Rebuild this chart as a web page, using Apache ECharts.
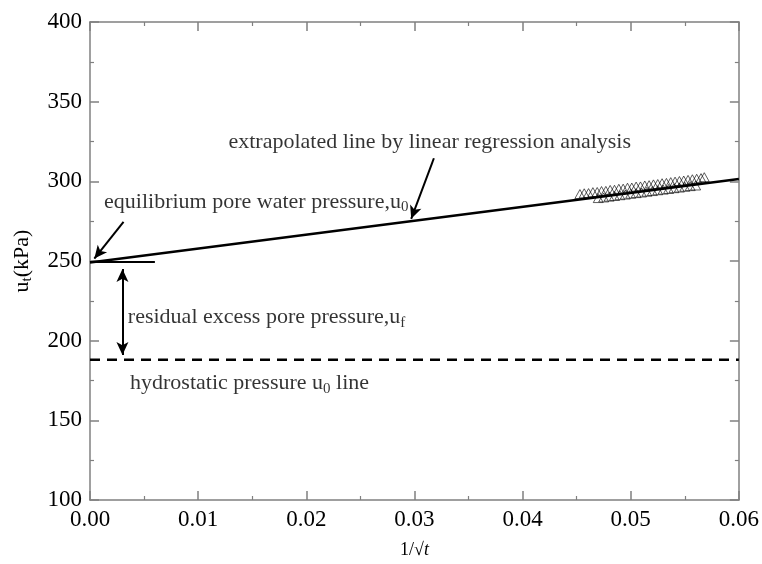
<!DOCTYPE html>
<html>
<head>
<meta charset="utf-8">
<script src="https://cdn.jsdelivr.net/npm/echarts@6/dist/echarts.min.js"></script>
<style>
	html, body { margin: 0; padding: 0; background: #fff; }
	#main { width: 762px; height: 564px; }
</style>
</head>
<body>
<div id="main"></div>
<script>
'use strict';
// measured points, upper and lower rows of triangles
var measuredX1 = [0.0453, 0.0457, 0.0461, 0.0465, 0.0469, 0.0473, 0.0477, 0.0481, 0.0485, 0.0489, 0.0493, 0.0497, 0.0501, 0.0505, 0.0509, 0.0513, 0.0517, 0.0521, 0.0525, 0.0529, 0.0533, 0.0537, 0.0541, 0.0545, 0.0549, 0.0553, 0.0557, 0.0561, 0.0565, 0.0568];
var measuredY1 = [292.0, 292.5, 292.6, 293.2, 293.3, 293.9, 294.0, 294.6, 294.7, 295.3, 295.4, 296.0, 296.1, 296.7, 296.8, 297.4, 297.6, 298.1, 298.3, 298.8, 299.0, 299.5, 299.8, 300.2, 300.5, 300.9, 301.3, 301.6, 302.0, 302.6];
var measuredX2 = [0.0470, 0.0475, 0.0480, 0.0485, 0.0490, 0.0495, 0.0500, 0.0505, 0.0510, 0.0515, 0.0520, 0.0525, 0.0530, 0.0535, 0.0540, 0.0545, 0.0550, 0.0555, 0.0560];
var measuredY2 = [289.5, 289.9, 290.4, 290.8, 291.3, 291.7, 292.2, 292.6, 293.0, 293.5, 293.9, 294.4, 294.8, 295.2, 295.7, 296.1, 296.6, 297.0, 297.4];
// regression line end points
var regressionX = [0, 0.06];
var regressionY = [249, 301.5];
var hydrostatic = 188;
var equilibrium = 249.5;
var xTicks = ['0.00', '0.01', '0.02', '0.03', '0.04', '0.05', '0.06'];
var yTicks = [100, 150, 200, 250, 300, 350, 400];

var font = 'Liberation Serif';

function pairs(xs, ys) {
	return xs.map(function (x, i) { return [x, ys[i]]; });
}

var myChart = echarts.init(document.getElementById('main'));

var sub = function (size) {
	return { fontSize: size, fontFamily: font, color: '#000', padding: [10, 0, 0, 0] };
};
var norm = { fontSize: 22, fontFamily: font, color: '#000' };

var notes = [
	{ value: [0.0128, 324.5], text: '{n|extrapolated line by linear regression analysis}' },
	{ value: [0.0013, 287], text: '{n|equilibrium pore water pressure,u}{s|0}' },
	{ value: [0.0035, 214.5], text: '{n|residual excess pore pressure,u}{s|f}' },
	{ value: [0.0037, 173], text: '{n|hydrostatic pressure u}{s|0}{n| line}' }
];

var arrowStyle = { color: '#000', width: 2, type: 'solid' };

var axisCommon = {
	type: 'value',
	axisLine: { show: true, onZero: false, lineStyle: { color: '#808080', width: 1.5 } },
	axisTick: { show: true, inside: true, length: 9, lineStyle: { color: '#808080', width: 1.5 } },
	minorTick: { show: true, splitNumber: 2, length: 4, lineStyle: { color: '#808080', width: 1.2 } },
	splitLine: { show: false }
};

var option = {
	backgroundColor: '#fff',
	animation: false,
	grid: {
		left: 90,
		right: 23,
		top: 22,
		bottom: 61
	},
	xAxis: [Object.assign({}, axisCommon, {
		min: 0,
		max: 0.06,
		interval: 0.01,
		position: 'bottom',
		axisLabel: {
			margin: 8,
			fontSize: 23,
			fontFamily: font,
			color: '#000',
			formatter: function (v) { return xTicks[Math.round(v * 100)]; }
		},
		name: '{a|1/√}{b|t}',
		nameLocation: 'middle',
		nameGap: 41,
		nameTextStyle: {
			rich: {
				a: { fontSize: 18, fontFamily: font, color: '#000' },
				b: { fontSize: 18, fontFamily: font, fontStyle: 'italic', color: '#000' }
			}
		}
	}), Object.assign({}, axisCommon, {
		min: 0,
		max: 0.06,
		interval: 0.01,
		position: 'top',
		axisLabel: { show: false }
	})],
	yAxis: [Object.assign({}, axisCommon, {
		min: yTicks[0],
		max: yTicks[yTicks.length - 1],
		interval: 50,
		position: 'left',
		axisLabel: {
			margin: 8,
			fontSize: 23,
			fontFamily: font,
			color: '#000'
		},
		name: '{n|u}{s|t}{n|(kPa)}',
		nameLocation: 'middle',
		nameGap: 55,
		nameTextStyle: {
			rich: { n: norm, s: sub(15) }
		}
	}), Object.assign({}, axisCommon, {
		min: yTicks[0],
		max: yTicks[yTicks.length - 1],
		interval: 50,
		position: 'right',
		axisLabel: { show: false }
	})],
	series: [{
		name: 'measured',
		type: 'scatter',
		symbol: 'triangle',
		symbolSize: [10, 9],
		itemStyle: { color: 'rgba(255,255,255,0)', borderColor: '#000', borderWidth: 0.8 },
		data: pairs(measuredX1, measuredY1).concat(pairs(measuredX2, measuredY2)),
		z: 2
	}, {
		name: 'regression',
		type: 'line',
		symbol: 'none',
		lineStyle: { color: '#000', width: 2.5 },
		data: pairs(regressionX, regressionY),
		z: 3
	}, {
		name: 'hydrostatic',
		type: 'line',
		symbol: 'none',
		lineStyle: { color: '#000', width: 2.5, type: [10, 7] },
		data: [[0, hydrostatic], [0.06, hydrostatic]],
		z: 3
	}, {
		name: 'annotations',
		type: 'scatter',
		symbolSize: 0,
		silent: true,
		data: notes.map(function (d) { return { value: d.value, text: d.text }; }),
		label: {
			show: true,
			position: 'right',
			distance: 0,
			formatter: function (p) { return p.data.text; },
			rich: { n: norm, s: sub(15) }
		},
		markLine: {
			silent: true,
			animation: false,
			label: { show: false },
			symbol: ['none', 'arrow'],
			symbolSize: [9, 13],
			lineStyle: arrowStyle,
			data: [
				[{ coord: [0.0318, 314.5] }, { coord: [0.0297, 276.5] }],
				[{ coord: [0.0031, 274.5] }, { coord: [0.0004, 251.5] }],
				[{ coord: [0.003, 245], symbol: 'arrow' }, { coord: [0.003, 191] }],
				[{ coord: [0, equilibrium], symbol: 'none' }, { coord: [0.006, equilibrium], symbol: 'none' }]
			]
		},
		z: 4
	}]
};
myChart.setOption(option);
</script>
</body>
</html>
